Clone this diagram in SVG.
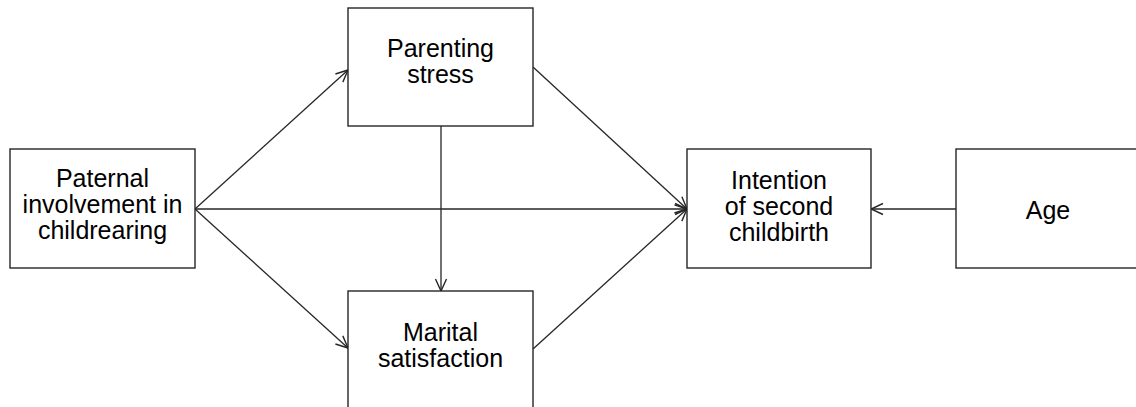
<svg xmlns="http://www.w3.org/2000/svg" width="1136" height="407" viewBox="0 0 1136 407">
  <style>
    .box { fill: #ffffff; stroke: #262626; stroke-width: 1.4; }
    .lbl { font-family: "Liberation Sans", Arial, sans-serif; font-size: 25px; fill: #000000; text-anchor: middle; }
    .conn { stroke: #262626; stroke-width: 1.3; fill: none; marker-end: url(#arr); }
  </style>
  <defs>
    <marker id="arr" viewBox="0 0 14 14" refX="13" refY="7" markerWidth="14" markerHeight="14" markerUnits="userSpaceOnUse" orient="auto">
      <path d="M1,1.5 L13,7 L1,12.5" fill="none" stroke="#262626" stroke-width="1.4"/>
    </marker>
  </defs>
  <rect x="0" y="0" width="1136" height="407" fill="#ffffff"/>

  <g id="connectors">
    <line class="conn" x1="195" y1="209" x2="348" y2="70"/>
    <line class="conn" x1="195" y1="209" x2="348" y2="348"/>
    <line class="conn" x1="195" y1="209" x2="687" y2="209"/>
    <line class="conn" x1="533" y1="67" x2="687" y2="209"/>
    <line class="conn" x1="533" y1="349" x2="687" y2="209"/>
    <line class="conn" x1="441" y1="126" x2="441" y2="291"/>
    <line class="conn" x1="956" y1="209" x2="871" y2="209"/>
  </g>

  <g id="node-paternal">
    <rect class="box" x="10" y="149" width="185" height="119"/>
    <text class="lbl" x="102.5" y="187">Paternal</text>
    <text class="lbl" x="102.5" y="213">involvement in</text>
    <text class="lbl" x="102.5" y="239">childrearing</text>
  </g>

  <g id="node-parenting-stress">
    <rect class="box" x="348" y="8" width="185" height="118"/>
    <text class="lbl" x="440.5" y="57">Parenting</text>
    <text class="lbl" x="440.5" y="83">stress</text>
  </g>

  <g id="node-marital">
    <rect class="box" x="348" y="291" width="185" height="120"/>
    <text class="lbl" x="440.5" y="341">Marital</text>
    <text class="lbl" x="440.5" y="367">satisfaction</text>
  </g>

  <g id="node-intention">
    <rect class="box" x="687" y="149" width="184" height="119"/>
    <text class="lbl" x="779" y="189">Intention</text>
    <text class="lbl" x="779" y="215">of second</text>
    <text class="lbl" x="779" y="241">childbirth</text>
  </g>

  <g id="node-age">
    <rect class="box" x="956" y="149" width="186" height="119"/>
    <text class="lbl" x="1048" y="219">Age</text>
  </g>
</svg>
